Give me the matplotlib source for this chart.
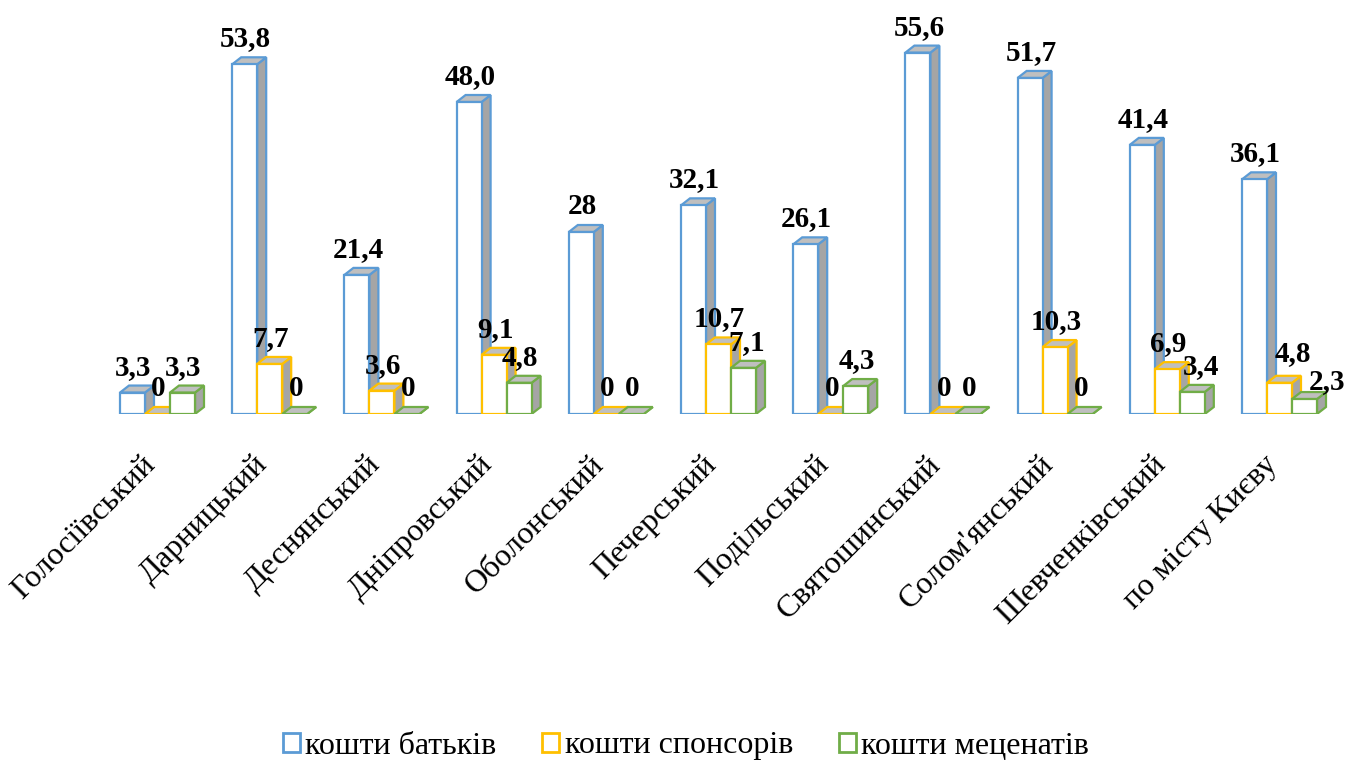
import matplotlib
matplotlib.use("Agg")
import matplotlib.pyplot as plt
from matplotlib.patches import Polygon, Rectangle
import numpy as np

categories = ["Голосіївський", "Дарницький", "Деснянський", "Дніпровський", "Оболонський",
              "Печерський", "Подільський", "Святошинський", "Солом'янський", "Шевченківський",
              "по місту Києву"]
parents = [3.3, 53.8, 21.4, 48.0, 28, 32.1, 26.1, 55.6, 51.7, 41.4, 36.1]
sponsors = [0, 7.7, 3.6, 9.1, 0, 10.7, 0, 0, 10.3, 6.9, 4.8]
patrons = [3.3, 0, 0, 4.8, 0, 7.1, 4.3, 0, 0, 3.4, 2.3]
parents_lbl = ["3,3", "53,8", "21,4", "48,0", "28", "32,1", "26,1", "55,6", "51,7", "41,4", "36,1"]
sponsors_lbl = ["0", "7,7", "3,6", "9,1", "0", "10,7", "0", "0", "10,3", "6,9", "4,8"]
patrons_lbl = ["3,3", "0", "0", "4,8", "0", "7,1", "4,3", "0", "0", "3,4", "2,3"]
series_names = ["кошти батьків", "кошти спонсорів", "кошти меценатів"]
colors = ["#5b9bd5", "#ffc000", "#70ad47"]

W, H = 1357, 767
fig = plt.figure(figsize=(W / 100, H / 100), dpi=100)
px_unit = 6.5
grp = 112.2
base_px = 414
ylim_top = 60
ax_h = ylim_top * px_unit
left_px = 157.5 - grp / 2
ax = fig.add_axes([left_px / W, (H - base_px) / H, 11 * grp / W, ax_h / H])
ax.set_xlim(-0.5, 10.5)
ax.set_ylim(0, ylim_top)
ax.axis("off")

serif = ["Liberation Serif", "DejaVu Serif"]
bw = 25 / grp
dx = 9 / grp
dy = 7 / px_unit
lw = 1.6
side_c = "#a5a5a5"
top_c = "#bfbfbf"

# label nudges in pixels (series, group): (dx, dy)
nudge = {(2, 10): (22, -8), (1, 10): (12, 4), (2, 9): (8, 0), (2, 5): (2, 0)}

data = [parents, sponsors, patrons]
labels = [parents_lbl, sponsors_lbl, patrons_lbl]
x = np.arange(len(categories))
z = 2
for i in range(len(categories)):
    for s in range(3):
        v = data[s][i]
        x0 = x[i] + (s - 1.5) * bw
        x1 = x0 + bw
        c = colors[s]
        ax.add_patch(Polygon([[x1, 0], [x1 + dx, dy], [x1 + dx, v + dy], [x1, v]],
                             closed=True, facecolor=side_c, edgecolor=c, lw=lw, zorder=z,
                             joinstyle="miter"))
        ax.add_patch(Polygon([[x0, v], [x0 + dx, v + dy], [x1 + dx, v + dy], [x1, v]],
                             closed=True, facecolor=top_c, edgecolor=c, lw=lw, zorder=z,
                             joinstyle="miter"))
        if v > 0:
            ax.add_patch(Rectangle((x0, 0), bw, v, facecolor="white", edgecolor=c,
                                   lw=lw, zorder=z + 0.5, joinstyle="miter"))
        ndx, ndy = nudge.get((s, i), (0, 0))
        ax.annotate(labels[s][i], (x0 + bw / 2, v + dy),
                    xytext=((ndx + 1) * 0.72, (11 + ndy) * 0.72),
                    textcoords="offset points", ha="center", va="baseline",
                    fontsize=21, fontweight="bold", family=serif, zorder=1000)
        z += 1

for i, name in enumerate(categories):
    ax.annotate(name, (x[i], 0), xytext=(4 * 0.72, -36 * 0.72), textcoords="offset points",
                rotation=45, ha="right", va="top",
                fontsize=23, family=serif, zorder=1000)

handles = [Rectangle((0, 0), 1, 1, facecolor="white", edgecolor=c, lw=2) for c in colors]
fig.legend(handles, series_names, loc="center", bbox_to_anchor=(686 / W, 1 - 746 / H),
           ncol=3, frameon=False, prop={"family": serif, "size": 23},
           handlelength=0.53, handleheight=0.53, handletextpad=0.16, columnspacing=1.45,
           borderpad=0, borderaxespad=0)

fig.savefig("out.png", dpi=100, facecolor="white")
